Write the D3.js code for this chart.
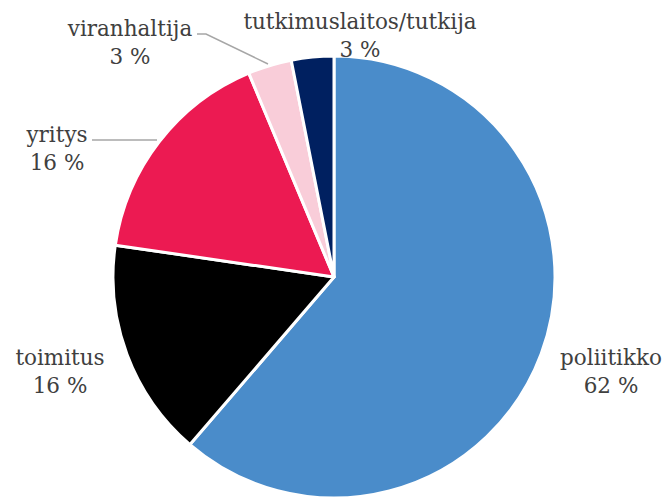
<!DOCTYPE html>
<html>
<head>
<meta charset="utf-8">
<script src="https://cdn.jsdelivr.net/npm/d3@7"></script>
<style>
  body { margin: 0; background: #fff; }
  text { font-family: "DejaVu Serif", serif; fill: #404040; }
</style>
</head>
<body>
<div id="chart-area"></div>
<script>
// Data
var categories = ["poliitikko", "toimitus", "yritys", "viranhaltija", "tutkimuslaitos/tutkija"];
var values = [61.3, 16.0, 16.4, 3.2, 3.1];
var pctLabels = ["62 %", "16 %", "16 %", "3 %", "3 %"];

var colors = ["#4a8cca", "#000000", "#ec1a52", "#f9cdd9", "#002060"];

var width = 667;
var height = 501;
var cx = 334, cy = 277, radius = 221;

var svg = d3.select("#chart-area").append("svg").attr("width", width).attr("height", height);
var g = svg.append("g").attr("transform", "translate(" + cx + "," + cy + ")");

var pie = d3.pie().sort(null).value(function(d) { return d; });
var arc = d3.arc().innerRadius(0).outerRadius(radius);

var arcs = pie(values);

g.selectAll("path").data(arcs).enter().append("path")
  .attr("d", arc)
  .attr("fill", function(d, i) { return colors[i]; })
  .attr("stroke", "#fff")
  .attr("stroke-width", 3)
  .attr("stroke-linejoin", "round");

// label layout (absolute page coords)
var labelPos = [
  {x: 611, y: 365},
  {x: 60, y: 365},
  {x: 57, y: 142},
  {x: 130, y: 36},
  {x: 360, y: 29}
];

// leader lines
var leaders = [
  [[197, 34], [206, 34], [268, 64]],
  [[92, 140], [157, 140]]
];
svg.selectAll(".leader").data(leaders).enter().append("polyline")
  .attr("class", "leader")
  .attr("points", function(d) { return d.map(function(p) { return p.join(","); }).join(" "); })
  .attr("fill", "none")
  .attr("stroke", "#a6a6a6")
  .attr("stroke-width", 1.5);

var labels = svg.selectAll(".lbl").data(categories).enter().append("text")
  .attr("class", "lbl")
  .attr("text-anchor", "middle")
  .attr("font-size", "21.5px")
  .attr("x", function(d, i) { return labelPos[i].x; })
  .attr("y", function(d, i) { return labelPos[i].y; });

labels.append("tspan").text(function(d) { return d; });
labels.append("tspan")
  .attr("x", function(d, i) { return labelPos[i].x; })
  .attr("dy", 28)
  .text(function(d, i) { return pctLabels[i]; });
</script>
</body>
</html>
